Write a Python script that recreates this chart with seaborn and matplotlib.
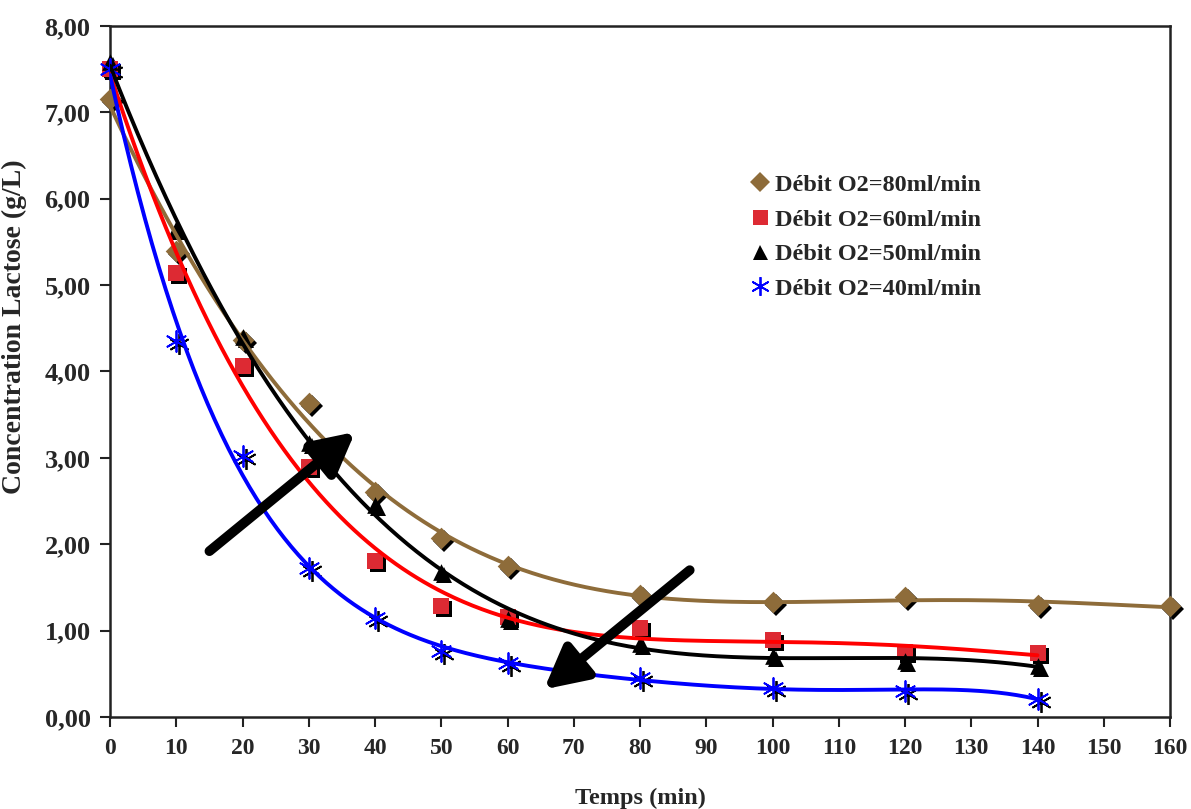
import numpy as np
import pandas as pd
import matplotlib
matplotlib.use("Agg")
import matplotlib.pyplot as plt
import matplotlib.transforms as mtransforms
from matplotlib.lines import Line2D
import seaborn as sns

# ---- data ----
time_80 = [0, 10, 20, 30, 40, 50, 60, 80, 100, 120, 140, 160]
conc_80 = [7.15, 5.40, 4.36, 3.64, 2.61, 2.07, 1.75, 1.41, 1.33, 1.39, 1.30, 1.28]
time_60 = [0, 10, 20, 30, 40, 50, 60, 80, 100, 120, 140]
conc_60 = [7.50, 5.14, 4.06, 2.89, 1.81, 1.29, 1.16, 1.03, 0.89, 0.75, 0.74]
time_50 = [0, 10, 20, 30, 40, 50, 60, 80, 100, 120, 140]
conc_50 = [7.58, 5.65, 4.40, 3.17, 2.45, 1.68, 1.14, 0.85, 0.71, 0.65, 0.59]
time_40 = [0, 10, 20, 30, 40, 50, 60, 80, 100, 120, 140]
conc_40 = [7.50, 4.35, 3.02, 1.73, 1.15, 0.76, 0.63, 0.45, 0.34, 0.30, 0.21]

labels = ["Débit O2=80ml/min", "Débit O2=60ml/min",
          "Débit O2=50ml/min", "Débit O2=40ml/min"]
trend_order = [5, 4, 4, 5]
x_ticks = list(range(0, 161, 10))
y_ticks = [0, 1, 2, 3, 4, 5, 6, 7, 8]
y_tick_labels = ["0,00", "1,00", "2,00", "3,00", "4,00", "5,00", "6,00", "7,00", "8,00"]

# arrows (tail -> head) in data units
arrow_up = ((15.0, 1.92), (37.0, 3.30))
arrow_down = ((87.5, 1.70), (65.5, 0.32))

series = [
    (time_80, conc_80, labels[0], "D", "#8E6C3A", "#8E6C3A", 11, trend_order[0]),
    (time_60, conc_60, labels[1], "s", "#DD2A33", "#FF0000", 12, trend_order[1]),
    (time_50, conc_50, labels[2], "^", "#000000", "#000000", 12, trend_order[2]),
    (time_40, conc_40, labels[3], (6, 2, 0), "#0000FF", "#0000FF", 15, trend_order[3]),
]

frames = []
for t, c, lab, *_ in series:
    frames.append(pd.DataFrame({"t": t, "c": c, "serie": lab}))
df = pd.concat(frames, ignore_index=True)

sns.set_theme(style="white")
plt.rcParams["font.family"] = ["Liberation Serif", "DejaVu Serif"]
plt.rcParams["font.weight"] = "bold"

fig = plt.figure(figsize=(11.91, 8.09), dpi=100)
ax = fig.add_axes([0.0924, 0.1137, 0.8900, 0.8542])

shadow = mtransforms.offset_copy(ax.transData, fig=fig, x=3, y=-3, units="dots")

handles = []
for t, c, lab, mk, mcol, lcol, ms, order in series:
    sub = df[df["serie"] == lab]
    is_star = not isinstance(mk, str)
    # black shadow
    ax.plot(sub["t"], sub["c"], linestyle="none", marker=mk, markersize=ms,
            color="black", markeredgecolor="black",
            markeredgewidth=1.3 if is_star else 0, transform=shadow, zorder=2, clip_on=False)
    sns.scatterplot(data=sub, x="t", y="c", ax=ax, marker=mk, s=ms ** 2,
                    color=mcol, edgecolor=mcol, linewidth=1.3 if is_star else 0,
                    zorder=3, legend=False, clip_on=False)
    # polynomial trend line
    p = np.polynomial.Polynomial.fit(sub["t"], sub["c"], order)
    xs = np.linspace(min(t), max(t), 400)
    sns.lineplot(x=xs, y=p(xs), ax=ax, color=lcol, linewidth=2.8, zorder=4,
                 estimator=None, sort=False)
    handles.append(Line2D([], [], linestyle="none", marker=mk, markersize=ms * 0.9,
                          color=mcol, markeredgecolor=mcol,
                          markeredgewidth=1.3 if is_star else 0, label=lab))

for (tail, head) in (arrow_up, arrow_down):
    ax.annotate("", xy=head, xytext=tail,
                arrowprops=dict(arrowstyle="-|>,head_length=1.15,head_width=0.6",
                                lw=7, color="black", shrinkA=0, shrinkB=0,
                                mutation_scale=22),
                zorder=6)

ax.set_xlim(0, 160)
ax.set_ylim(0, 8)
ax.set_xticks(x_ticks)
ax.set_xticklabels([str(v) for v in x_ticks])
ax.set_yticks(y_ticks)
ax.set_yticklabels(y_tick_labels)
ax.tick_params(axis="both", direction="out", length=7, width=1.5, color="#222222",
               pad=8, bottom=True, left=True)
ax.tick_params(axis="x", labelsize=17)
ax.tick_params(axis="y", labelsize=19, pad=7)
for lab in ax.get_xticklabels() + ax.get_yticklabels():
    lab.set_fontweight("bold")
for sp in ax.spines.values():
    sp.set_color("#222222")
    sp.set_linewidth(1.8)

ax.set_xlabel("Temps (min)", fontsize=17.5, fontweight="bold", labelpad=21)
ax.set_ylabel("Concentration Lactose (g/L)", fontsize=20, fontweight="bold")
ax.yaxis.set_label_coords(-0.078, 0.565)

leg = ax.legend(handles=handles, loc="upper left", bbox_to_anchor=(0.595, 0.80),
                frameon=False, prop={"size": 17.5, "weight": "bold"},
                handlelength=0.8, handletextpad=0.22, labelspacing=0.52,
                borderaxespad=0)

fig.savefig("out.png", dpi=100, facecolor="white")
